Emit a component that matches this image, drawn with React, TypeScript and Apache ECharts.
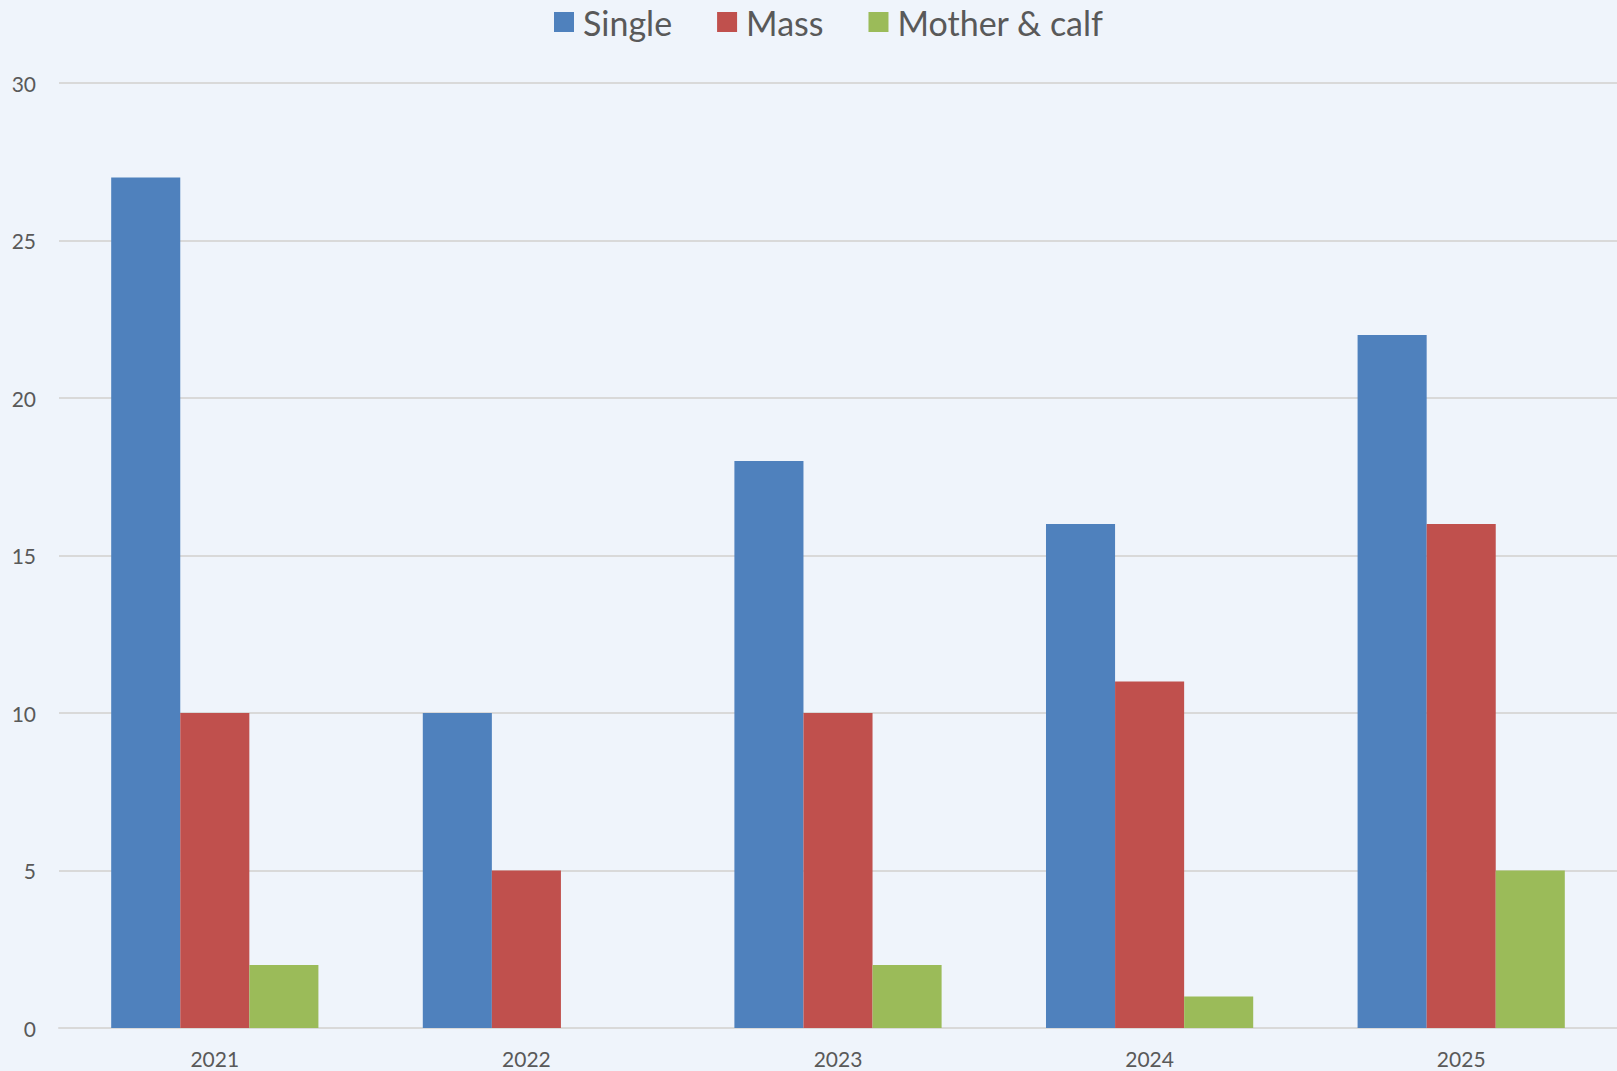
import React, { useEffect, useRef } from "react";
import * as echarts from "echarts";

const years = ["2021", "2022", "2023", "2024", "2025"];
const single = [27, 10, 18, 16, 22];
const mass = [10, 5, 10, 11, 16];
const motherCalf = [2, 0, 2, 1, 5];
const seriesNames = ["Single", "Mass", "Mother & calf"];
const colors = ["#4f81bd", "#c0504d", "#9bbb59"];

export default function App() {
  const ref = useRef<HTMLDivElement>(null);
  useEffect(() => {
    if (!ref.current) return;
    const chart = echarts.init(ref.current, undefined, { renderer: "svg" });
    const font = "Lato, 'Open Sans', sans-serif";
    const data = [single, mass, motherCalf];
    chart.setOption({
      animation: false,
      backgroundColor: "#eff4fb",
      textStyle: { fontFamily: font },
      legend: {
        top: 0,
        left: 549,
        itemWidth: 20,
        itemHeight: 20,
        itemGap: 45,
        icon: "rect",
        textStyle: { fontSize: 34, color: "#595959", fontFamily: font, padding: [0, 0, 0, 4] },
        data: seriesNames,
      },
      grid: { left: 59, right: 0, top: 83, bottom: 43, containLabel: false },
      xAxis: {
        type: "category",
        data: years,
        axisLine: { show: true, lineStyle: { color: "#d9d9d9", width: 2 } },
        axisTick: { show: false },
        axisLabel: { color: "#595959", fontSize: 21, margin: 20, fontFamily: font },
      },
      yAxis: {
        type: "value",
        min: 0,
        max: 30,
        interval: 5,
        axisLine: { show: false },
        axisTick: { show: false },
        splitLine: { lineStyle: { color: "#d9d9d9", width: 2 } },
        axisLabel: { color: "#595959", fontSize: 21, margin: 23, fontFamily: font },
      },
      series: seriesNames.map((name, i) => ({
        name,
        type: "bar",
        data: data[i],
        barGap: "0%",
        barCategoryGap: "33.5%",
        itemStyle: { color: colors[i] },
      })),
    });
    return () => chart.dispose();
  }, []);
  return <div ref={ref} style={{ width: 1617, height: 1071, position: "absolute", left: 0, top: 0 }} />;
}
